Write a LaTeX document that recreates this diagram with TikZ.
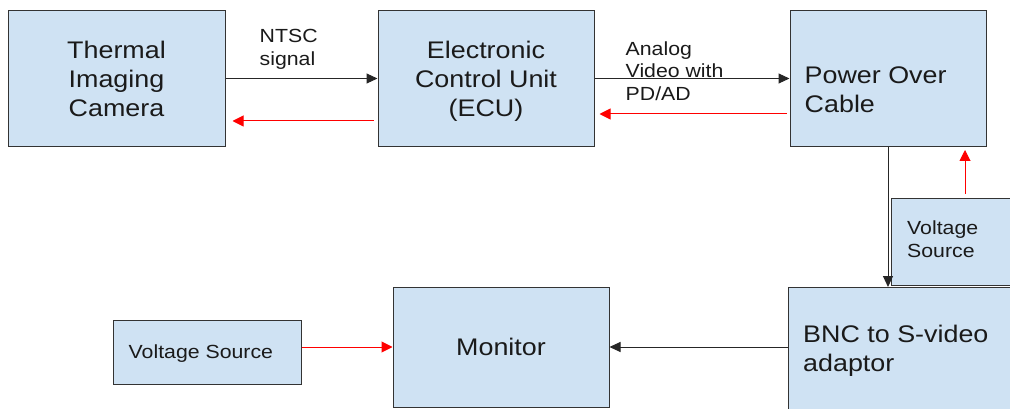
\documentclass[tikz,border=0pt]{standalone}
\usepackage{fontspec}
\setmainfont{Liberation Sans}[FakeStretch=1.12]
\usetikzlibrary{positioning,arrows.meta}

\definecolor{boxblue}{HTML}{CFE2F3}
\definecolor{txtgray}{HTML}{1A1A1A}
\newcommand\bigtxt{\fontsize{24}{29}\selectfont}
\newcommand\smalltxt{\fontsize{19}{22.5}\selectfont}

\tikzset{
  block/.style={draw=black!80, line width=1pt, fill=boxblue, inner sep=0pt,
    align=center, font=\bigtxt, text=txtgray},
  lbl/.style={inner sep=0pt, anchor=north west, align=left, text=txtgray},
  fwd/.style={draw=black!85, line width=1pt, -{Triangle[length=11pt,width=10pt]}},
  back/.style={draw=red, line width=1pt, -{Triangle[length=11pt,width=11pt]}},
}

\begin{document}
\begin{tikzpicture}[x=1pt,y=1pt]
        \useasboundingbox (0,0) rectangle (1010,-409);
        \clip (0,0) rectangle (1010,-409);
        \node[block, minimum width=217pt, minimum height=136pt] (cam) at (116.5,-78.5) {Thermal\\Imaging\\Camera};
        \node[block, minimum width=216pt, minimum height=136pt, text depth=0pt] (ecu) [right=152pt of cam] {Electronic\\Control Unit\\(ECU)};
        \node[block, minimum width=196pt, minimum height=136pt] (poc) [right=195pt of ecu] {};
        \node[block, minimum width=240pt, minimum height=140pt, anchor=north west] (bnc) at (788,-287) {};
        \node[block, minimum width=140pt, minimum height=87pt, anchor=south west] (vsrc2) at (891,-286) {};
        \node[block, minimum width=216pt, minimum height=120pt] (mon) at (501,-347) {Monitor};
        \node[block, minimum width=188pt, minimum height=64pt] (vsrc1) at (207,-352) {};
        % texts set flush left in their boxes
        \node[lbl, font=\bigtxt] (poctxt) at ([shift={(15,-56.3)}]poc.north west) {Power Over\\Cable};
        \node[lbl, font=\bigtxt] (bnctxt) at ([shift={(15,-38)}]bnc.north west) {BNC to S-video\\adaptor};
        \node[lbl, font=\smalltxt] (vsrc2txt) at ([shift={(16,-23)}]vsrc2.north west) {Voltage\\Source};
        \node[lbl, font=\smalltxt] (vsrc1txt) at ([shift={(16,-25)}]vsrc1.north west) {Voltage Source};
        % signal labels
        \node[lbl, font=\smalltxt] (ntsc) at ([shift={(34,-19.5)}]cam.north east) {NTSC\\signal};
        \node[lbl, font=\smalltxt] (analog) at ([shift={(31,-31.5)}]ecu.north east) {Analog\\Video with\\PD/AD};
        \draw[fwd] (cam.east) -- (ecu.west);
        \draw[back, shorten <=4pt, shorten >=7pt] ([yshift=-42.5pt]ecu.west) -- ([yshift=-42.5pt]cam.east);
        \draw[fwd] (ecu.east) -- (poc.west);
        \draw[back, shorten <=3pt, shorten >=5pt] ([yshift=-35.5pt]poc.west) -- ([yshift=-35.5pt]ecu.east);
        \draw[fwd] (poc.south) -- (poc.south |- bnc.north);
        \draw[back, shorten <=4pt, shorten >=3pt] ([xshift=74pt]vsrc2.north west) -- ([xshift=74pt]vsrc2.north west |- poc.south);
        \draw[fwd] (bnc.west |- mon.east) -- (mon.east);
        \draw[back] ([yshift=5pt]vsrc1.east) -- ([yshift=5pt]vsrc1.east -| mon.west);
    \end{tikzpicture}
\end{document}
